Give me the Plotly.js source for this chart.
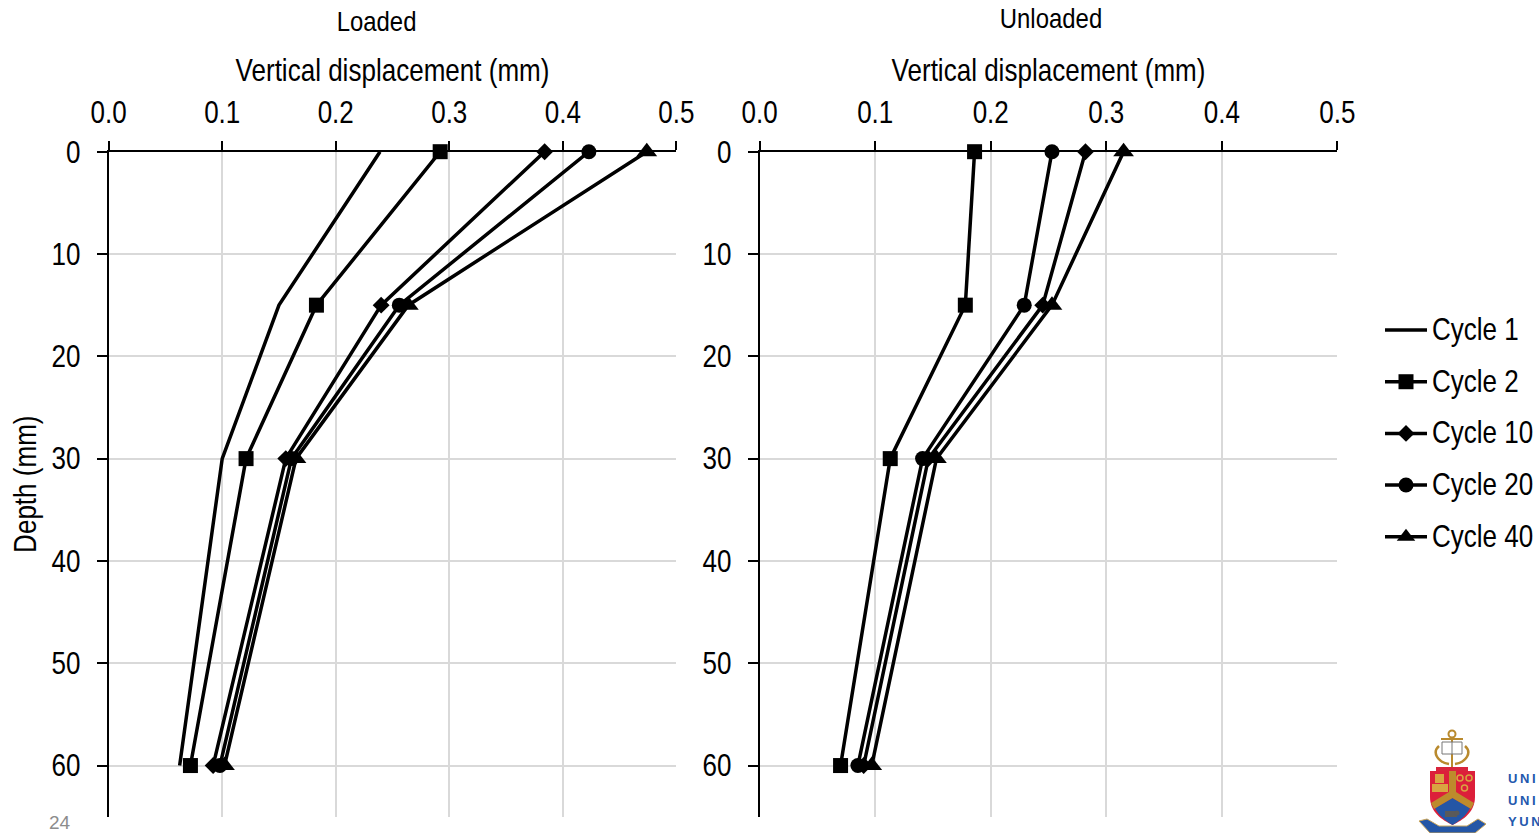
<!DOCTYPE html>
<html>
<head>
<meta charset="utf-8">
<script src="https://cdn.plot.ly/plotly-3.0.1.min.js"></script>
<style>html,body{margin:0;padding:0;background:#fff;overflow:hidden}#chart{width:1539px;height:833px}</style>
</head>
<body>
<div id="chart"></div>
<script>
const depths = [0, 15, 30, 60];
const seriesNames = ['Cycle 1', 'Cycle 2', 'Cycle 10', 'Cycle 20', 'Cycle 40'];
const markerSymbols = ['circle', 'square', 'diamond', 'circle', 'triangle-up'];
const markerSizes = [0, 15, 13, 15, 18];

const loadedCycle1 = [0.239, 0.150, 0.100, 0.0625];
const loadedCycle2 = [0.292, 0.183, 0.121, 0.072];
const loadedCycle10 = [0.384, 0.240, 0.156, 0.092];
const loadedCycle20 = [0.423, 0.256, 0.161, 0.098];
const loadedCycle40 = [0.474, 0.264, 0.165, 0.102];

const unloadedCycle2 = [0.186, 0.178, 0.113, 0.070];
const unloadedCycle10 = [0.282, 0.245, 0.146, 0.090];
const unloadedCycle20 = [0.253, 0.229, 0.141, 0.085];
const unloadedCycle40 = [0.315, 0.253, 0.153, 0.097];

const xTicks = [0, 0.1, 0.2, 0.3, 0.4, 0.5];
const xTickLabels = ['0.0', '0.1', '0.2', '0.3', '0.4', '0.5'];
const yTicks = [0, 10, 20, 30, 40, 50, 60];

const FONT = '"Liberation Sans", Arial, sans-serif';
const NARROW = 0.84;
const LEGEND_FONT = 25.5;
const TICK_FONT = 31;
const W = 1539, H = 833;

function trace(values, idx, xa, ya, showLegend) {
  const hasMarker = idx !== 0;
  const t = {
    x: values, y: depths, xaxis: xa, yaxis: ya, type: 'scatter',
    mode: hasMarker ? 'lines+markers' : 'lines',
    name: seriesNames[idx],
    legendgroup: seriesNames[idx],
    showlegend: showLegend,
    cliponaxis: false,
    line: {color: '#000', width: 3.5}
  };
  if (hasMarker) t.marker = {symbol: markerSymbols[idx], size: markerSizes[idx], color: '#000', line: {width: 0}};
  return t;
}

const data = [
  trace(loadedCycle1, 0, 'x', 'y', true),
  trace(loadedCycle2, 1, 'x', 'y', true),
  trace(loadedCycle10, 2, 'x', 'y', true),
  trace(loadedCycle20, 3, 'x', 'y', true),
  trace(loadedCycle40, 4, 'x', 'y', true),
  trace(unloadedCycle2, 1, 'x2', 'y2', false),
  trace(unloadedCycle10, 2, 'x2', 'y2', false),
  trace(unloadedCycle20, 3, 'x2', 'y2', false),
  trace(unloadedCycle40, 4, 'x2', 'y2', false)
];

const tickFont = {family: FONT, size: TICK_FONT, color: '#000'};

function xAxis(left, right, anchor) {
  return {
    domain: [left / W, right / W], range: [0, 0.5], side: 'top', anchor: anchor,
    tickmode: 'array', tickvals: xTicks, ticktext: xTickLabels,
    ticks: 'outside', ticklen: 9, tickwidth: 2, tickcolor: '#000',
    ticklabelstandoff: 5,
    showgrid: true, gridcolor: '#D9D9D9', gridwidth: 2, zeroline: false,
    showline: true, linecolor: '#000', linewidth: 2,
    tickfont: tickFont, automargin: false,
    title: {text: 'Vertical displacement (mm)', font: tickFont, standoff: 4}
  };
}
function yAxis(anchor, titleText) {
  const a = {
    domain: [1 - 816.7 / H, 1 - 151.7 / H], range: [65, 0], anchor: anchor,
    tickmode: 'array', tickvals: yTicks,
    ticks: 'outside', ticklen: 10, tickwidth: 2, tickcolor: '#000',
    ticklabelstandoff: 10,
    showgrid: true, gridcolor: '#D9D9D9', gridwidth: 2, zeroline: false,
    showline: true, linecolor: '#000', linewidth: 2,
    tickfont: tickFont, automargin: false
  };
  if (titleText) a.title = {text: titleText, font: tickFont, standoff: 0};
  return a;
}

const crest = `<svg xmlns="http://www.w3.org/2000/svg" viewBox="0 0 159 133" width="477" height="399">
<g fill="none" stroke="#b98a2e" stroke-width="2">
<circle cx="73" cy="34" r="3.5"/><path d="M73 37V68M62 39H84"/>
<path d="M60 46C53 52 58 62 70 64M86 46C93 52 88 62 76 64" stroke-width="2.5"/>
</g>
<path d="M63 42H83V54H63Z" fill="#fff" stroke="#777" stroke-width="1"/><path d="M73 42V54" stroke="#777"/>
<path d="M57 71V67H89V71Z" fill="#d8243c"/>
<path d="M51 71H96V97C96 112 84 120 73.500 125C63 120 51 112 51 97Z" fill="#dc1f3a"/>
<path d="M56 108L73.500 98L91 108C88 115 80 121 73.500 125C67 121 59 115 56 108Z" fill="#2456a6"/>
<path d="M70 71H77V92L95 103L92 109L73.500 98L55 109L52 103L70 92Z" fill="#bd8b2c"/>
<rect x="56" y="74" width="9" height="9" fill="#d9a441"/><rect x="53" y="84" width="16" height="8" fill="#d9a441"/>
<g fill="none" stroke="#d9a441" stroke-width="1.500"><circle cx="81" cy="78" r="3"/><circle cx="90" cy="78" r="3"/><circle cx="85.500" cy="88" r="3"/></g>
<path d="M66 111H78V117H66Z" fill="#5a5a5a"/><circle cx="78" cy="113" r="2.500" fill="#5a5a5a"/>
<path d="M40 121L48 119L60 126H88L99 119L107 124L96 133H51Z" fill="#2456a6" stroke="#c9a45a"/>
</svg>`;

const logoBlue = '#2458ad';
const logoFont = {family: FONT, size: 13, color: logoBlue, weight: 700};

const layout = {
  width: W, height: H,
  margin: {l: 0, r: 0, t: 0, b: 0},
  paper_bgcolor: '#fff', plot_bgcolor: '#fff',
  font: {family: FONT, color: '#000'},
  xaxis: xAxis(108.7, 676.3, 'y'),
  yaxis: yAxis('x', 'Depth (mm)'),
  xaxis2: xAxis(759.7, 1337.3, 'y2'),
  yaxis2: yAxis('x2'),
  legend: {
    x: 1380 / W, y: 1 - 307 / H, xanchor: 'left', yanchor: 'top',
    font: {family: FONT, size: LEGEND_FONT, color: '#000'},
    itemwidth: 42, tracegroupgap: 15.5,
    bgcolor: 'rgba(0,0,0,0)', traceorder: 'grouped'
  },
  annotations: [
    {text: 'Loaded', xref: 'paper', yref: 'paper', x: 376 / W, y: 1 - 20.5 / H, xanchor: 'center', yanchor: 'middle', showarrow: false, font: {family: FONT, size: 28.5, color: '#000'}},
    {text: 'Unloaded', xref: 'paper', yref: 'paper', x: 1051 / W, y: 1 - 18.5 / H, xanchor: 'center', yanchor: 'middle', showarrow: false, font: {family: FONT, size: 28.5, color: '#000'}},
    {text: '24', xref: 'paper', yref: 'paper', x: 47 / W, y: 1 - 822 / H, xanchor: 'left', yanchor: 'middle', showarrow: false, font: {family: FONT, size: 19, color: '#8c8c8c'}},
    {text: 'U\u2009N\u2009I', xref: 'paper', yref: 'paper', x: 1506 / W, y: 1 - 778 / H, xanchor: 'left', yanchor: 'middle', showarrow: false, font: logoFont},
    {text: 'U\u2009N\u2009I', xref: 'paper', yref: 'paper', x: 1506 / W, y: 1 - 800 / H, xanchor: 'left', yanchor: 'middle', showarrow: false, font: logoFont},
    {text: 'Y\u2009U\u2009N', xref: 'paper', yref: 'paper', x: 1506 / W, y: 1 - 821 / H, xanchor: 'left', yanchor: 'middle', showarrow: false, font: logoFont}
  ],
  images: [{
    source: 'data:image/svg+xml;charset=utf-8,' + encodeURIComponent(crest),
    xref: 'paper', yref: 'paper', x: 1379 / W, y: 1 - 700 / H,
    sizex: 159 / W, sizey: 133 / H, xanchor: 'left', yanchor: 'top', sizing: 'stretch', layer: 'above'
  }]
};

// The reference type is a condensed Arial: reshape the real text elements to those proportions.
function narrowText(gd) {
  const selector = '.xtick text, .x2tick text, .ytick text, .y2tick text, .xtitle, .x2title, .ytitle';
  gd.querySelectorAll(selector).forEach(el => reshape(el, NARROW, 1));
  gd.querySelectorAll('.annotation-text').forEach(el => {
    const t = el.textContent;
    if (t === 'Loaded' || t === 'Unloaded') reshape(el, NARROW, 1);
  });
  const k = TICK_FONT / LEGEND_FONT;
  gd.querySelectorAll('.legendtext').forEach(el => reshape(el, NARROW * k, k));
}
function reshape(el, sx, sy) {
  const x = parseFloat(el.getAttribute('x')) || 0;
  const y = parseFloat(el.getAttribute('y')) || 0;
  const prior = el.getAttribute('transform') || '';
  el.setAttribute('transform', `${prior} translate(${x},${y}) scale(${sx},${sy}) translate(${-x},${-y})`);
}

Plotly.newPlot('chart', data, layout, {displayModeBar: false, staticPlot: true}).then(narrowText);
</script>
</body>
</html>
